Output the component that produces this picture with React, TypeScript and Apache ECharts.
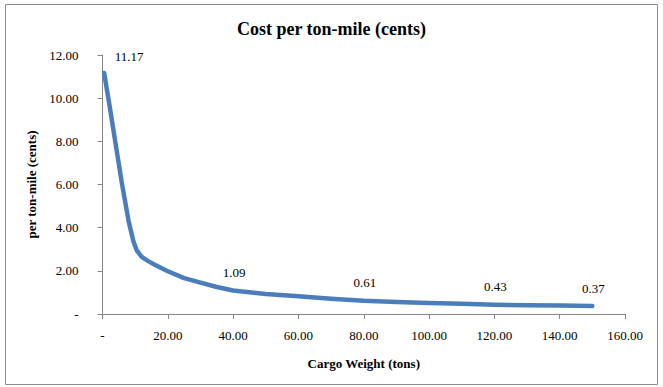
import React, { useEffect, useRef } from "react";
import * as echarts from "echarts";

// Cargo weight (tons) and cost per ton-mile (cents)
const cargoWeights = [0.5, 2, 4, 6, 8, 9.5, 10.5, 12, 14, 16, 20, 25, 30, 35, 40, 50, 60, 70, 80, 90, 100, 110, 120, 130, 140, 150];
const costPerTonMile = [11.17, 9.8, 7.9, 6.0, 4.3, 3.35, 2.95, 2.65, 2.45, 2.28, 1.98, 1.66, 1.45, 1.25, 1.09, 0.93, 0.82, 0.71, 0.61, 0.56, 0.51, 0.47, 0.43, 0.41, 0.39, 0.37];
// Points whose value is printed on the chart
const labeledWeights = [0.5, 40, 80, 120, 150];

const xTicks = [0, 20, 40, 60, 80, 100, 120, 140, 160];
const yTicks = [0, 2, 4, 6, 8, 10, 12];

const FONT = "'Liberation Serif', 'Times New Roman', serif";
const fmt = (v: number) => (v === 0 ? "-" : v.toFixed(2));

export default function App() {
  const ref = useRef<HTMLDivElement>(null);

  useEffect(() => {
    if (!ref.current) return;
    const chart = echarts.init(ref.current, undefined, { renderer: "svg" });

    const data = cargoWeights.map((w, i) => {
      const v = costPerTonMile[i];
      if (!labeledWeights.includes(w)) return { value: [w, v] };
      const first = i === 0;
      return {
        value: [w, v],
        label: {
          show: true,
          position: "top",
          distance: first ? 9 : 11,
          offset: first ? [25, 0] : [1, 0],
          formatter: () => v.toFixed(2),
          fontFamily: FONT,
          fontSize: 13,
          color: "#000",
        },
      };
    });

    chart.setOption({
      animation: false,
      backgroundColor: "#fff",
      title: {
        text: "Cost per ton-mile (cents)",
        left: "center",
        top: 15,
        textStyle: { fontFamily: FONT, fontSize: 18, fontWeight: "bold", color: "#000" },
      },
      graphic: [
        {
          type: "rect",
          shape: { x: 5.5, y: 4.5, width: 652, height: 380 },
          style: { fill: "none", stroke: "#8c8c8c", lineWidth: 1 },
          silent: true,
        },
      ],
      grid: { left: 102.5, right: 38, top: 55, bottom: 73 },
      xAxis: {
        type: "value",
        min: xTicks[0],
        max: xTicks[xTicks.length - 1],
        interval: 20,
        name: "Cargo Weight (tons)",
        nameLocation: "middle",
        nameGap: 43,
        nameTextStyle: { fontFamily: FONT, fontSize: 13, fontWeight: "bold", color: "#000" },
        axisLine: { show: true, lineStyle: { color: "#868686", width: 1 } },
        axisTick: { show: true, length: 5, lineStyle: { color: "#868686" } },
        splitLine: { show: false },
        axisLabel: { formatter: fmt, fontFamily: FONT, fontSize: 13, color: "#000", margin: 15 },
      },
      yAxis: {
        type: "value",
        min: yTicks[0],
        max: yTicks[yTicks.length - 1],
        interval: 2,
        name: "per ton-mile (cents)",
        nameLocation: "middle",
        nameGap: 62,
        nameRotate: 90,
        nameTextStyle: { fontFamily: FONT, fontSize: 13, fontWeight: "bold", color: "#000" },
        axisLine: { show: true, lineStyle: { color: "#868686", width: 1 } },
        axisTick: { show: true, length: 5, lineStyle: { color: "#868686" } },
        splitLine: { show: false },
        axisLabel: { formatter: fmt, fontFamily: FONT, fontSize: 13, color: "#000", margin: 24 },
      },
      series: [
        {
          type: "line",
          data,
          smooth: false,
          showSymbol: true,
          symbol: "circle",
          symbolSize: 1,
          itemStyle: { color: "rgba(0,0,0,0)" },
          lineStyle: { color: "#4A7EBB", width: 4.5, cap: "round", join: "round" },
          label: { show: false },
        },
      ],
    });

    return () => chart.dispose();
  }, []);

  return (
    <div
      ref={ref}
      style={{ position: "fixed", left: 0, top: 0, width: 663, height: 387 }}
    />
  );
}
